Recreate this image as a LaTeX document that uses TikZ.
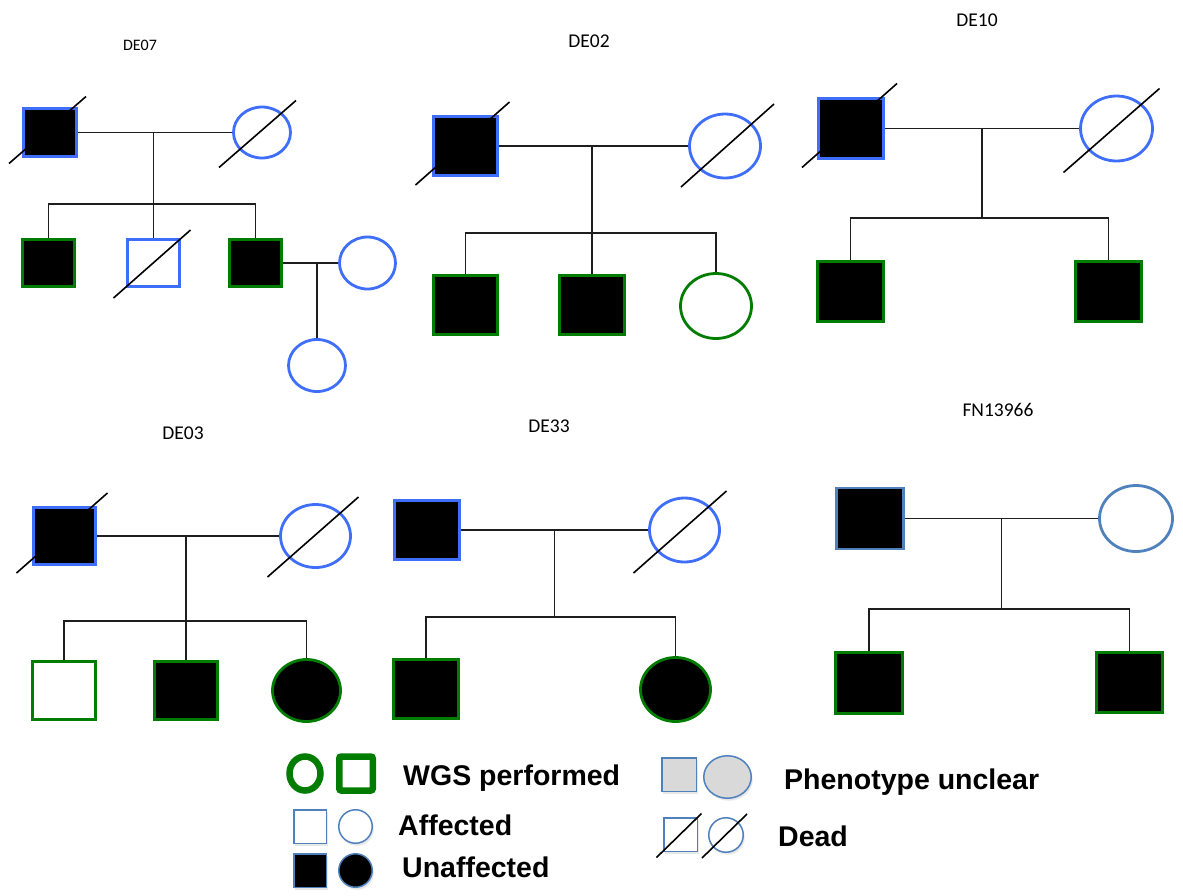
\documentclass[tikz,border=0pt]{standalone}
\usepackage{fontspec}
\setmainfont{Liberation Sans}
\newfontfamily\titlefont{Carlito}
\usetikzlibrary{shapes.geometric,calc,shadows}
\definecolor{royal}{RGB}{62,110,250}
\definecolor{steel}{RGB}{79,129,189}
\definecolor{wgs}{RGB}{0,125,0}
\definecolor{unclear}{RGB}{217,217,217}
\definecolor{linkgray}{RGB}{30,30,30}
% dead mark: a slash through a symbol, given as offsets from its centre
\newcommand\deadmark[5]{\draw[slash] ($(#1)+(#2,#3)$) -- ($(#1)+(#4,#5)$);}
\begin{document}
\begin{tikzpicture}[x=1pt,y=-1pt,
  sq/.style={rectangle,inner sep=0pt,line width=2.8pt},
  ov/.style={ellipse,inner sep=0pt,line width=2.8pt},
  founder/.style={draw=royal},
  spouse/.style={draw=steel},
  wgsd/.style={draw=wgs},
  aff/.style={fill=black},
  wh/.style 2 args={minimum width=#1,minimum height=#2},
  link/.style={draw=linkgray,line width=1.3pt},
  slash/.style={draw=black,line width=1.6pt},
  title/.style={anchor=base,inner sep=0pt,font=\titlefont\fontsize{19.5}{22}\selectfont},
  legtext/.style={anchor=base west,inner sep=0pt,font=\bfseries\fontsize{28.5}{32}\selectfont},
  legshadow/.style={drop shadow={opacity=0.18,shadow xshift=1.5pt,shadow yshift=-2.5pt}},
]
\fill[white] (0,0) rectangle (1183,895);
\useasboundingbox (0,0) rectangle (1183,895);

% ---------------- DE07 ----------------
\node[title,font=\titlefont\fontsize{16}{18}\selectfont] (a-t) at (140,50) {DE07};
\node[sq,founder,aff,wh={53}{48}] (a-f) at (50,132.5) {};
\node[ov,founder,wh={57}{51}] (a-m) at (262,132.5) {};
\node[sq,wgsd,aff,wh={52}{47}] (a-c1) at (48.5,263) {};
\node[sq,founder,wh={52}{47}] (a-c2) at (153.5,263) {};
\node[sq,wgsd,aff,wh={52}{47}] (a-c3) at (255.5,263) {};
\node[ov,founder,wh={56}{52}] (a-sp) at (367.5,263) {};
\node[ov,founder,wh={57}{52}] (a-g) at (317,365.5) {};
\coordinate (a-j) at (a-c2.north |- a-f.east);
\coordinate (a-s) at (a-j |- 0,204);
\draw[link] (a-f.east) -- (a-m.west);
\draw[link] (a-j) -- (a-s);
\draw[link] (a-c1.north) |- (a-s) -| (a-c3.north);
\draw[link] (a-s) -- (a-c2.north);
\coordinate (a-j2) at (a-g.north |- a-c3.east);
\draw[link,line width=1.8pt] (a-c3.east) -- (a-sp.west);
\draw[link,line width=1.8pt] (a-j2) -- (a-g.north);
\deadmark{a-f}{-41}{31}{36}{-36}
\deadmark{a-m}{-43}{35}{34}{-32}
\deadmark{a-c2}{-40}{35}{37}{-33}

% ---------------- DE02 ----------------
\node[title] (b-t) at (589,47) {DE02};
\node[sq,founder,aff,wh={64}{59}] (b-f) at (465.5,146) {};
\node[ov,founder,wh={71}{64}] (b-m) at (725,146) {};
\node[sq,wgsd,aff,wh={64}{59}] (b-c1) at (465.5,305) {};
\node[sq,wgsd,aff,wh={65}{59}] (b-c2) at (592,305) {};
\node[ov,wgsd,wh={71}{65}] (b-c3) at (716,306) {};
\coordinate (b-j) at (b-c2.north |- b-f.east);
\coordinate (b-s) at (b-j |- 0,233);
\draw[link] (b-f.east) -- (b-m.west);
\draw[link] (b-j) -- (b-s);
\draw[link] (b-c1.north) |- (b-s) -| (b-c3.north);
\draw[link] (b-s) -- (b-c2.north);
\deadmark{b-f}{-50}{39}{44}{-44}
\deadmark{b-m}{-44}{41}{49}{-42}

% ---------------- DE10 ----------------
\node[title] (c-t) at (977,26) {DE10};
\node[sq,founder,aff,wh={65}{60}] (c-f) at (851,128.5) {};
\node[ov,founder,wh={72}{65}] (c-m) at (1116.5,128.5) {};
\node[sq,wgsd,aff,wh={66}{60}] (c-c1) at (850.5,291.5) {};
\node[sq,wgsd,aff,wh={66}{60}] (c-c2) at (1108.5,291.5) {};
\coordinate (c-j) at ($(c-f.east)!0.5!(c-m.west)$);
\coordinate (c-s) at (c-j |- 0,218);
\draw[link] (c-f.east) -- (c-m.west);
\draw[link] (c-j) -- (c-s);
\draw[link] (c-c1.north) |- (c-s) -| (c-c2.north);
\deadmark{c-f}{-49}{39}{46}{-45}
\deadmark{c-m}{-53}{44}{43}{-40}

% ---------------- DE03 ----------------
\node[title] (d-t) at (183,439) {DE03};
\node[sq,founder,aff,wh={62}{57}] (d-f) at (64.5,536) {};
\node[ov,founder,wh={70}{63}] (d-m) at (315.5,536) {};
\node[sq,wgsd,fill=white,wh={63}{58}] (d-c1) at (64,690.5) {};
\node[sq,wgsd,aff,wh={63}{58}] (d-c2) at (186,690.5) {};
\node[ov,wgsd,aff,wh={68}{62}] (d-c3) at (306.5,690.5) {};
\coordinate (d-j) at (d-c2.north |- d-f.east);
\coordinate (d-s) at (d-j |- 0,621);
\draw[link] (d-f.east) -- (d-m.west);
\draw[link] (d-j) -- (d-s);
\draw[link] (d-c1.north) |- (d-s) -| (d-c3.north);
\draw[link] (d-s) -- (d-c2.north);
\deadmark{d-f}{-48}{37}{43}{-43}
\deadmark{d-m}{-48}{41}{43}{-39}

% ---------------- DE33 ----------------
\node[title] (e-t) at (549,432) {DE33};
\node[sq,founder,aff,wh={65}{59}] (e-f) at (427,530) {};
\node[ov,founder,wh={70}{64}] (e-m) at (684.5,530) {};
\node[sq,wgsd,aff,wh={65}{59}] (e-c1) at (426,689) {};
\node[ov,wgsd,aff,wh={70}{64}] (e-c2) at (675.5,689.5) {};
\coordinate (e-j) at ($(e-f.east)!0.5!(e-m.west)$);
\coordinate (e-s) at (e-j |- 0,617);
\draw[link] (e-f.east) -- (e-m.west);
\draw[link] (e-j) -- (e-s);
\draw[link] (e-c1.north) |- (e-s) -| (e-c2.north);
\deadmark{e-m}{-51}{43}{42}{-39}

% ---------------- FN13966 ----------------
\node[title] (h-t) at (998,416) {FN13966};
\node[sq,spouse,aff,wh={67}{61}] (h-f) at (870,518.5) {};
\node[ov,spouse,wh={73}{66}] (h-m) at (1136,518.5) {};
\node[sq,wgsd,aff,wh={67}{61}] (h-c1) at (869,683) {};
\node[sq,wgsd,aff,wh={66}{60}] (h-c2) at (1129.5,682.5) {};
\coordinate (h-j) at ($(h-f.east)!0.5!(h-m.west)$);
\coordinate (h-s) at (h-j |- 0,609);
\draw[link] (h-f.east) -- (h-m.west);
\draw[link] (h-j) -- (h-s);
\draw[link] (h-c1.north) |- (h-s) -| (h-c2.north);

% ---------------- Legend ----------------
\node[ov,draw=wgs,line width=6.5pt,fill=white,wh={31}{34},legshadow] (l-wo) at (305,773.5) {};
\node[sq,draw=wgs,line width=6.5pt,rounded corners=2pt,fill=white,wh={33.5}{34},legshadow] (l-ws) at (356,773.5) {};
\node[legtext] (l-wt) at (403,785) {WGS performed};

\node[sq,draw=steel,line width=1.5pt,fill=white,wh={32.5}{33.5},legshadow] (l-as) at (310,826.5) {};
\node[ov,draw=steel,line width=1.5pt,fill=white,wh={33.5}{33.5},legshadow] (l-ac) at (355.5,826.5) {};
\node[legtext] (l-at) at (398,835) {Affected};

\node[sq,draw=steel,line width=1.5pt,fill=black,wh={32.5}{33.5},legshadow] (l-us) at (310,870.5) {};
\node[ov,draw=steel,line width=1.5pt,fill=black,wh={33.5}{33.5},legshadow] (l-uc) at (355.5,870.5) {};
\node[legtext] (l-ut) at (402,877) {Unaffected};

\node[sq,draw=steel,line width=1.5pt,fill=unclear,wh={34.5}{33.5},legshadow] (l-ps) at (679,774.5) {};
\node[ov,draw=steel,line width=1.5pt,fill=unclear,wh={47.5}{42.5},legshadow] (l-pc) at (727.5,777) {};
\node[legtext] (l-pt) at (784,789) {Phenotype unclear};

\node[sq,draw=steel,line width=1.5pt,fill=white,wh={33.5}{33.5},legshadow] (l-ds) at (680.5,834.5) {};
\node[ov,draw=steel,line width=1.5pt,fill=white,wh={34.5}{34.5},legshadow] (l-dc) at (726,835) {};
\deadmark{l-ds}{-24}{23}{21}{-21}
\deadmark{l-dc}{-24}{23}{21}{-21}
\node[legtext] (l-dt) at (778,846) {Dead};
\end{tikzpicture}
\end{document}
